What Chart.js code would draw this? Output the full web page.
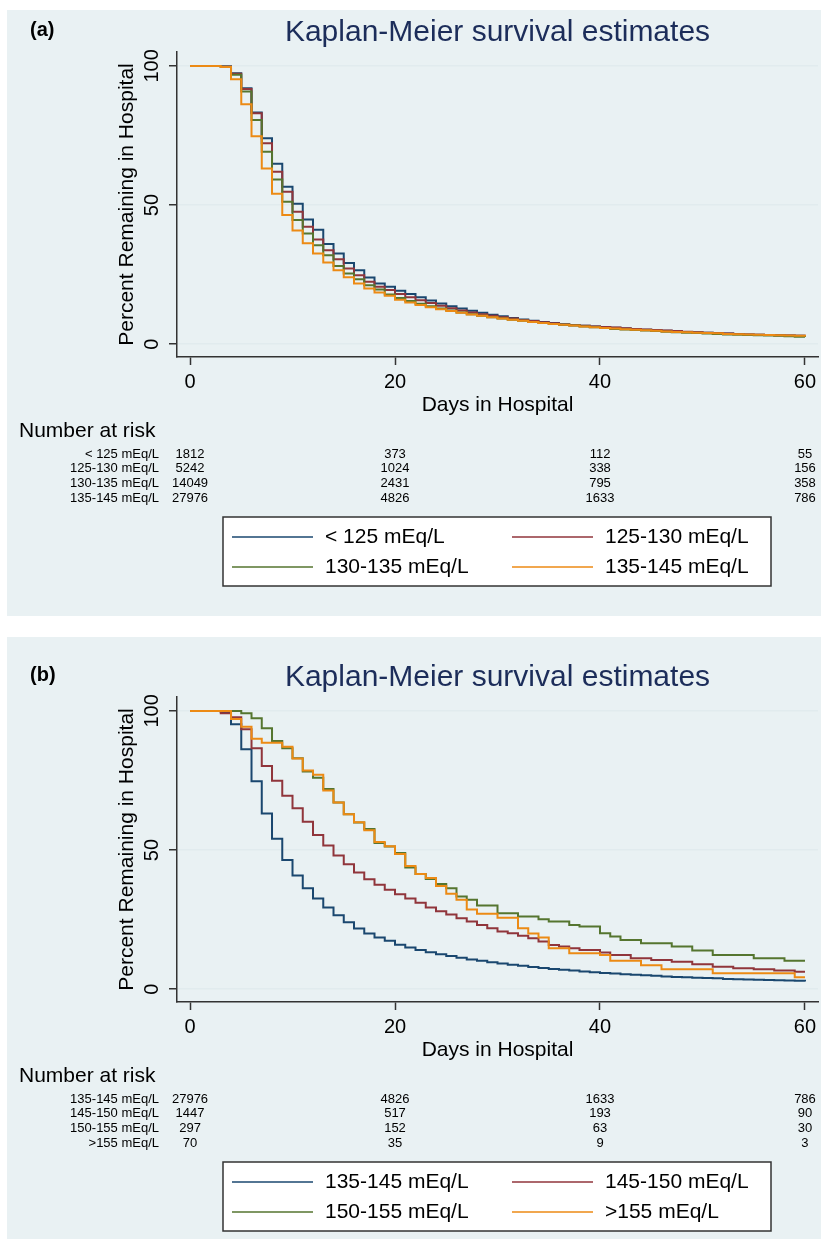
<!DOCTYPE html>
<html><head><meta charset="utf-8">
<script src="https://cdn.jsdelivr.net/npm/chart.js@4.4.1/dist/chart.umd.min.js"></script>
<style>
html,body{margin:0;padding:0;background:#fff;width:821px;height:1239px;overflow:hidden;}
.panel{position:absolute;background:#E9F1F3;}
.cv{position:absolute;}
</style></head><body>
<div class="panel" style="left:7px;top:10px;width:814px;height:606px"></div>
<div class="panel" style="left:7px;top:637px;width:814px;height:602px"></div>
<div class="cv" style="left:7px;top:10px;width:814px;height:606px"><canvas id="cA"></canvas></div>
<div class="cv" style="left:7px;top:655px;width:814px;height:584px"><canvas id="cB"></canvas></div>
<script>
// ---------- data ----------
const days = [0,1,2,3,4,5,6,7,8,9,10,11,12,13,14,15,16,17,18,19,20,21,22,23,24,25,26,27,28,29,30,
  31,32,33,34,35,36,37,38,39,40,41,42,43,44,45,46,47,48,49,50,51,52,53,54,55,56,57,58,59,60];
const xTicks = [0, 20, 40, 60];
const yTicks = [0, 50, 100];
const riskDays = [0, 20, 40, 60];

// percent remaining in hospital, value held on [day, day+1)
const na_lt125 = [100,100,100,99.8,97.4,92.0,83.3,74.0,64.8,56.6,
  50.5,44.8,41.1,36.0,32.6,29.2,26.6,24.0,21.8,20.6,
  19.2,18.0,16.9,15.7,14.6,13.6,12.8,12.0,11.3,10.6,
  10.0,9.4,8.9,8.4,8.0,7.6,7.2,6.9,6.6,6.4,
  6.1,5.9,5.6,5.4,5.2,5.0,4.8,4.6,4.4,4.3,
  4.1,4.0,3.8,3.7,3.5,3.4,3.3,3.2,3.1,3.0,3.0];
const na_125_130 = [100,100,100,99.8,97.2,91.7,83.0,72.2,62.0,54.8,
  47.6,42.2,37.6,33.8,30.5,27.2,24.8,22.4,20.6,19.5,
  18.0,16.9,15.8,14.8,13.8,12.9,12.1,11.4,10.8,10.2,
  9.7,9.2,8.7,8.3,7.9,7.5,7.1,6.8,6.6,6.4,
  6.2,6.0,5.7,5.5,5.3,5.1,4.9,4.7,4.5,4.3,
  4.1,4.0,3.8,3.7,3.5,3.4,3.3,3.2,3.1,3.0,2.9];
const na_130_135 = [100,100,100,99.7,96.8,90.8,80.6,69.2,59.2,51.2,
  44.6,39.8,35.6,32.0,28.1,25.4,23.3,21.2,19.7,17.9,
  16.6,15.5,14.5,13.6,12.8,12.1,11.4,10.8,10.2,9.7,
  9.2,8.8,8.4,8.0,7.6,7.3,7.0,6.7,6.4,6.1,
  5.8,5.5,5.3,5.1,4.9,4.7,4.5,4.3,4.1,4.0,
  3.8,3.7,3.5,3.4,3.3,3.2,3.1,3.0,2.9,2.7,2.6];
const na_135_145 = [100,100,100,99.6,95.2,86.2,74.7,63.1,54.1,46.4,
  40.9,36.3,32.6,29.4,26.6,24.1,21.8,20.0,18.6,17.4,
  16.0,15.0,14.1,13.3,12.6,11.9,11.3,10.7,10.2,9.7,
  9.2,8.8,8.4,8.0,7.6,7.3,7.0,6.7,6.4,6.1,
  5.8,5.6,5.4,5.2,5.0,4.8,4.6,4.4,4.3,4.1,
  4.0,3.9,3.7,3.6,3.5,3.4,3.3,3.2,3.1,3.0,2.8];
const na_145_150 = [100,100,100,99.2,97.7,93.4,86.6,80.2,74.9,69.5,
  65.0,60.2,55.4,51.6,48.0,44.9,41.9,39.5,37.5,35.7,
  34.1,32.6,31.1,29.4,28.0,26.8,25.5,24.3,23.1,21.9,
  20.7,20.1,19.2,18.3,17.1,15.9,15.3,14.7,14.1,14.1,
  13.2,12.3,12.3,11.1,11.1,10.5,10.5,9.9,9.9,9.0,
  9.0,8.1,8.1,7.5,7.5,7.2,7.2,6.7,6.7,6.3,6.3];
const na_150_155 = [100,100,100,100,100,99.2,97.4,93.8,89.2,86.6,
  83.0,78.2,76.0,71.9,67.1,62.9,59.9,57.6,52.5,51.3,
  48.9,43.7,41.4,39.6,37.8,36.3,33.3,32.1,30.1,30.1,
  27.3,27.3,26.1,26.1,25.1,24.3,24.3,23.1,22.5,22.5,
  20.1,18.9,17.7,17.7,16.5,16.5,16.5,15.3,15.3,13.9,
  13.9,12.3,12.3,12.3,12.3,11.1,11.1,11.1,10.2,10.2,10.2];
const na_gt155 = [100,100,100,100,97.1,94.3,90.0,88.6,88.6,87.1,
  82.9,78.6,77.1,71.4,67.1,62.9,60.0,57.1,52.9,51.4,
  48.6,44.3,41.4,40.0,37.1,34.3,32.1,28.6,27.1,27.1,
  25.7,25.7,21.9,20.0,18.6,14.7,14.7,12.9,12.9,12.9,
  12.3,10.2,10.2,10.2,8.6,8.6,7.2,7.2,7.2,7.2,
  7.2,5.7,5.7,5.7,5.7,5.7,5.7,5.7,5.7,4.3,4.3];

const groupsA = ['< 125 mEq/L', '125-130 mEq/L', '130-135 mEq/L', '135-145 mEq/L'];
const groupsB = ['135-145 mEq/L', '145-150 mEq/L', '150-155 mEq/L', '>155 mEq/L'];
const riskA = [[1812, 373, 112, 55], [5242, 1024, 338, 156], [14049, 2431, 795, 358], [27976, 4826, 1633, 786]];
const riskB = [[27976, 4826, 1633, 786], [1447, 517, 193, 90], [297, 152, 63, 30], [70, 35, 9, 3]];

const titleText = 'Kaplan-Meier survival estimates';
const xTitle = 'Days in Hospital';
const yTitle = 'Percent Remaining in Hospital';
const riskTitle = 'Number at risk';

// ---------- styling ----------
const FONT = '"Liberation Sans", Arial, Helvetica, sans-serif';
const COLORS = ['#1A476F', '#90353B', '#55752F', '#EC8A14'];

const decor = {
  id: 'decor',
  afterDraw(chart, args, o) {
    const {ctx, chartArea: ca, scales: {x}} = chart;
    ctx.save();
    ctx.textBaseline = 'middle';
    // panel tag
    ctx.fillStyle = '#000';
    ctx.font = 'bold 20px ' + FONT;
    ctx.textAlign = 'left';
    ctx.fillText(o.tag, 23, 20);
    // title
    ctx.fillStyle = '#1C2D5A';
    ctx.font = '30px ' + FONT;
    ctx.textAlign = 'center';
    ctx.fillText(titleText, (ca.left + ca.right) / 2, 23);
    // number at risk
    ctx.fillStyle = '#000';
    ctx.font = '21px ' + FONT;
    ctx.textAlign = 'left';
    ctx.fillText(riskTitle, 12, ca.bottom + 74);
    ctx.font = '13px ' + FONT;
    o.groups.forEach((g, r) => {
      const yy = ca.bottom + 97 + r * 14.7;
      ctx.textAlign = 'right';
      ctx.fillText(g, ca.left - 18, yy);
      ctx.textAlign = 'center';
      o.risk[r].forEach((n, c) => ctx.fillText(String(n), x.getPixelForValue(riskDays[c]), yy));
    });
    // legend box
    const bx = ca.left + 46, by = ca.bottom + 160, bw = 548, bh = 69;
    ctx.fillStyle = '#fff';
    ctx.fillRect(bx, by, bw, bh);
    ctx.strokeStyle = '#333';
    ctx.lineWidth = 1.5;
    ctx.strokeRect(bx, by, bw, bh);
    ctx.font = '21px ' + FONT;
    ctx.textAlign = 'left';
    chart.data.datasets.forEach((ds, i) => {
      const col = i % 2, row = Math.floor(i / 2);
      const lx = bx + (col ? 289 : 9);
      const ly = by + (row ? 50 : 20);
      ctx.strokeStyle = ds.borderColor;
      ctx.lineWidth = 1.6;
      ctx.beginPath(); ctx.moveTo(lx, ly); ctx.lineTo(lx + 81, ly); ctx.stroke();
      ctx.fillStyle = '#000';
      ctx.fillText(ds.label, lx + 93, ly);
    });
    ctx.restore();
  }
};

function makeChart(id, groups, series, risk, tag, padBottom) {
  const datasets = series.map((arr, i) => ({
    label: groups[i],
    data: days.map((d, k) => ({x: d, y: arr[k]})),
    borderColor: COLORS[i],
    backgroundColor: COLORS[i],
    borderWidth: 2,
    pointRadius: 0,
    stepped: true,
    fill: false,
    order: 3 - i
  }));
  return new Chart(document.getElementById(id), {
    type: 'line',
    data: {datasets},
    options: {
      responsive: true, maintainAspectRatio: false, animation: false, devicePixelRatio: 1,
      layout: {padding: {top: 42, left: 0, right: 3, bottom: padBottom}},
      plugins: {legend: {display: false}, tooltip: {enabled: false}, title: {display: false},
        decor: {tag, groups, risk}},
      scales: {
        x: {
          type: 'linear', min: -1.27, max: 61.27,
          afterBuildTicks: s => { s.ticks = xTicks.map(v => ({value: v})); },
          afterFit: s => { s.height = 61; s.paddingLeft = 0; s.paddingRight = 0; },
          ticks: {font: {size: 20, family: FONT}, color: '#000', padding: 5, maxRotation: 0, autoSkip: false},
          grid: {drawOnChartArea: false, tickColor: '#333', tickLength: 8, tickWidth: 1.5},
          border: {color: '#333', width: 1.5},
          title: {display: true, text: xTitle, font: {size: 21, family: FONT}, color: '#000', padding: {top: 0, bottom: 0}}
        },
        y: {
          type: 'linear', min: -4.6, max: 105,
          afterBuildTicks: s => { s.ticks = yTicks.map(v => ({value: v})); },
          afterFit: s => { s.width = 170; s.paddingTop = 0; s.paddingBottom = 0; },
          ticks: {font: {size: 20, family: FONT}, color: '#000', padding: 0, minRotation: 90, maxRotation: 90, crossAlign: 'center', autoSkip: false},
          grid: {color: '#E1EBEE', lineWidth: 1.5, tickColor: '#333', tickLength: 8, tickWidth: 1.5},
          border: {color: '#333', width: 1.5},
          title: {display: true, text: yTitle, font: {size: 21, family: FONT}, color: '#000', padding: {top: 107.4, bottom: 0}}
        }
      }
    },
    plugins: [decor]
  });
}

makeChart('cA', groupsA, [na_lt125, na_125_130, na_130_135, na_135_145], riskA, '(a)', 198);
makeChart('cB', groupsB, [na_135_145, na_145_150, na_150_155, na_gt155], riskB, '(b)', 176);
</script>
</body></html>
